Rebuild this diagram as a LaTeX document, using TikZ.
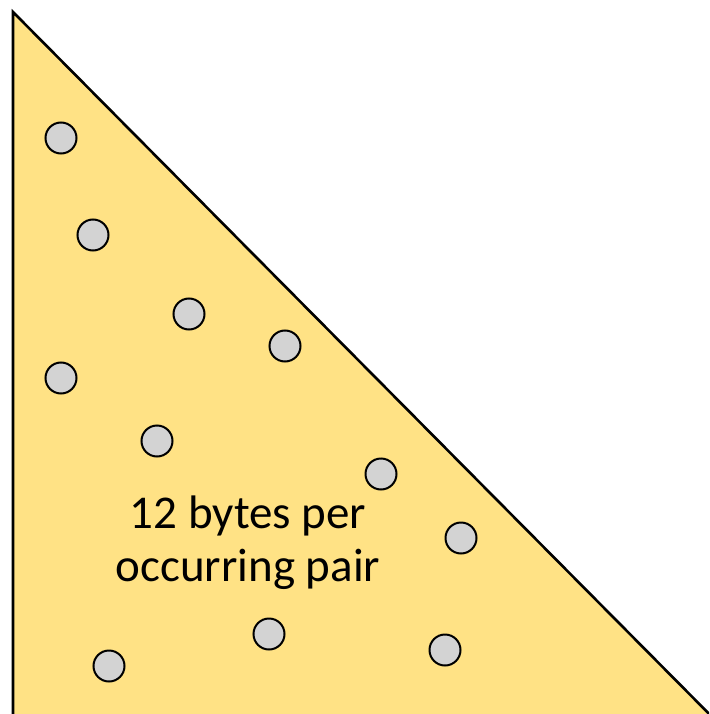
\documentclass[tikz,border=0pt]{standalone}
\usepackage{fontspec}
\setmainfont{Carlito}
\definecolor{gold}{HTML}{FFE285}
\definecolor{dotgray}{HTML}{D3D3D3}
\begin{document}
\begin{tikzpicture}[x=1pt,y=-1pt,
  dot/.style={circle,draw=black,line width=2pt,fill=dotgray,minimum size=31pt,inner sep=0pt}]
\useasboundingbox (0,0) rectangle (709,714);
\clip (0,0) rectangle (709,714);
\draw[fill=gold,line width=2.6pt,line join=miter] (13,12) -- (13,740) -- (735,740) -- cycle;
\foreach \n/\x/\y in {a/61/138,b/93/235,c/189/314,d/285/346,e/61/378,f/157/441,g/381/474,h/461/538,i/269/634,j/109/666,k/445/650}
  \node[dot] (\n) at (\x,\y) {};
\node[align=center,font=\fontsize{47}{53}\selectfont] (t) at (248,543) {12 bytes per\\occurring pair};
\end{tikzpicture}
\end{document}
